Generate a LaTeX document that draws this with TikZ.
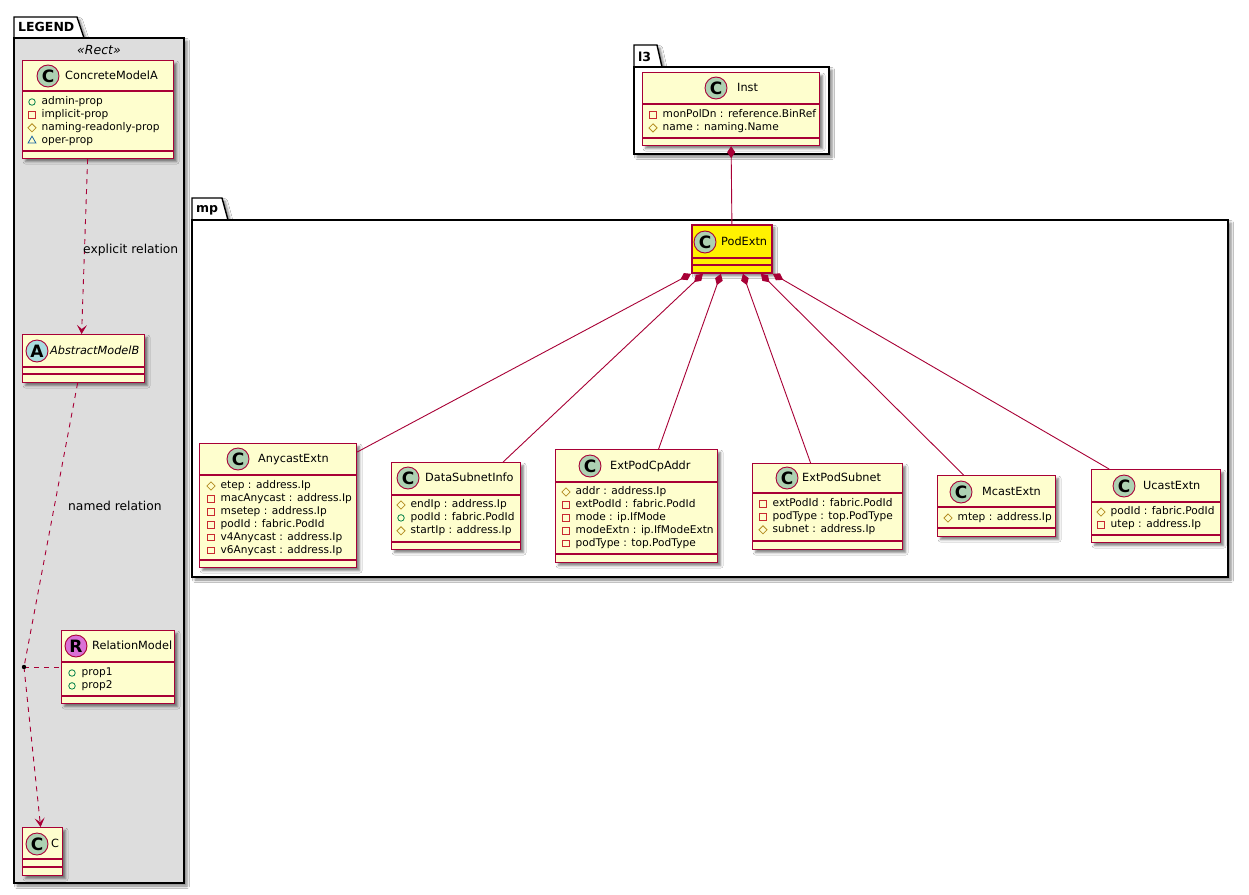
\documentclass[tikz,border=0pt]{standalone}
\usepackage{fontspec}
\setmainfont{DejaVu Sans}
\usetikzlibrary{arrows.meta,shapes.geometric,shadows.blur}

\definecolor{umlred}{HTML}{A80036}
\definecolor{umlfill}{HTML}{FEFECE}
\definecolor{spotC}{HTML}{ADD1B2}
\definecolor{spotA}{HTML}{A9DCDF}
\definecolor{spotR}{HTML}{DA70D6}
\definecolor{legendgray}{HTML}{DDDDDD}
\definecolor{pubgreen}{HTML}{038048}
\definecolor{privred}{HTML}{C82930}
\definecolor{protgold}{HTML}{B38D22}
\definecolor{pkgblue}{HTML}{1963A0}

\tikzset{
  umlshadow/.style={blur shadow={shadow xshift=3pt, shadow yshift=-3pt, shadow blur radius=2.5pt, shadow opacity=50}},
  classbox/.style={draw=umlred, fill=umlfill, line width=1.2pt, inner sep=0, umlshadow},
  classline/.style={draw=umlred, line width=1.2pt},
  spot/.style={circle, draw=umlred, line width=0.9pt, minimum size=22pt, inner sep=0, font=\bfseries\fontsize{17}{17}\selectfont},
  clsname/.style={anchor=west, inner sep=0, text height=8.5pt, text depth=2.5pt, font=\fontsize{11.3}{13}\selectfont},
  attrtext/.style={anchor=west, inner sep=0, text height=8pt, text depth=2.5pt, font=\fontsize{10.6}{12}\selectfont},
  attpub/.style={circle, draw=pubgreen, line width=0.8pt, minimum size=6.5pt, inner sep=0},
  attpriv/.style={rectangle, draw=privred, line width=0.8pt, minimum size=6.5pt, inner sep=0},
  attprot/.style={diamond, draw=protgold, line width=0.8pt, minimum size=8.5pt, inner sep=0},
  attpkg/.style={regular polygon, regular polygon sides=3, draw=pkgblue, line width=0.8pt, minimum size=9pt, inner sep=0},
  pkgbody/.style={draw=black, line width=1.4pt, umlshadow},
  pkgname/.style={anchor=west, inner sep=0, font=\bfseries\fontsize{12.5}{14}\selectfont},
  comp/.style={draw=umlred, line width=0.9pt, {Diamond[length=12pt,width=8pt]}-},
  dep/.style={draw=umlred, line width=0.9pt, dash pattern=on 5pt off 5pt},
  deparrow/.style={dep, -{Stealth[length=9pt,width=10pt,inset=4pt]}},
  rellabel/.style={anchor=west, inner sep=0, font=\fontsize{12.3}{14}\selectfont},
}

% class box: [options] name, x1, y1, x2, y2, header line, attribute line
\newcommand\umlclass[8][]{%
  \node[classbox, #1, minimum width={#5-#3}, minimum height={#6-#4}, anchor=north west] (#2) at (#3,#4) {};
  \draw[classline, #1] (#3,#7) -- (#5,#7) (#3,#8) -- (#5,#8);
}
% attributes: prefix, icon x, first row y, list of style/text
\newcommand\umlattrs[4]{%
  \foreach \sty/\txt [count=\i] in {#4} {
    \node[\sty] (#1-i\i) at (#2,{#3+12.9*(\i-1)}) {};
    \node[attrtext] (#1-t\i) at ({#2+9.5},{#3+12.9*(\i-1)}) {\txt};
  }%
}

\begin{document}
\begin{tikzpicture}[x=1pt,y=-1pt]

\fill[white] (0,0) rectangle (1249,894);
\useasboundingbox (0,0) rectangle (1249,894);

% packages
\path[pkgbody, fill=white] (14,38) -- (14,17) -- (77,17) -- (84,38) -- cycle;
\path[pkgbody, fill=legendgray] (14,38) rectangle (184,883);
\node[pkgname] (legendname) at (18,27) {LEGEND};
\node[font=\itshape\fontsize{12.5}{14}\selectfont, inner sep=0] (legendstereo) at (99,50) {«Rect»};

\path[pkgbody, fill=white] (192,220) -- (192,198) -- (222,198) -- (228,220) -- cycle;
\path[pkgbody, fill=white] (192,220) rectangle (1228,577);
\node[pkgname] (mpname) at (196,210) {mp};

\path[pkgbody, fill=white] (634,67) -- (634,45) -- (657,45) -- (662,67) -- cycle;
\path[pkgbody, fill=white] (634,67) rectangle (829,154);
\node[pkgname] (l3name) at (638,57) {l3};

% legend classes
\umlclass{concrete}{22}{60}{173}{158}{91}{151}
\node[spot, fill=spotC] (concrete-s) at (48,76) {C};
\node[clsname] (concrete-n) at (65,76) {ConcreteModelA};
\umlattrs{concrete}{32}{102}{attpub/admin-prop, attpriv/implicit-prop, attprot/naming-readonly-prop, attpkg/oper-prop}

\umlclass{abstract}{22}{334}{144}{382}{367}{374}
\node[spot, fill=spotA] (abstract-s) at (37,351) {A};
\node[clsname, font=\itshape\fontsize{11.3}{13}\selectfont] (abstract-n) at (50,351) {AbstractModelB};

\umlclass{relmodel}{61}{630}{174}{703}{662}{696}
\node[spot, fill=spotR] (relmodel-s) at (76,646) {R};
\node[clsname] (relmodel-n) at (92,646) {RelationModel};
\umlattrs{relmodel}{72}{673}{attpub/prop1, attpub/prop2}

\umlclass{cmodel}{22}{827}{62}{875}{859}{867}
\node[spot, fill=spotC] (cmodel-s) at (37,844) {C};
\node[clsname] (cmodel-n) at (51,844) {C};

% legend relations
\draw[deparrow] ([xshift=-10.5pt]concrete.south) -- ([xshift=-2pt]abstract.north);
\node[rellabel] (explicitlbl) at (83,250) {explicit relation};
\coordinate (reldot) at (24,667);
\draw[dep] ([xshift=-6pt]abstract.south) -- (reldot);
\draw[deparrow] (reldot) -- ([xshift=-2pt]cmodel.north);
\draw[dep] (reldot) -- (reldot -| relmodel.west);
\fill (reldot) circle (2.2);
\node[rellabel] (namedlbl) at (68,506) {named relation};

% l3
\umlclass{inst}{642}{72}{819}{145}{104}{138}
\node[spot, fill=spotC] (inst-s) at (716,88) {C};
\node[clsname] (inst-n) at (737,88) {Inst};
\umlattrs{inst}{653}{115}{attpriv/monPolDn : reference.BinRef, attprot/name : naming.Name}

% mp
\umlclass[fill=yellow, line width=1.8pt]{podextn}{691}{224}{771}{272}{258}{265}
\node[spot, fill=spotC] (podextn-s) at (705,242) {C};
\node[clsname] (podextn-n) at (721,242) {PodExtn};

\umlclass{anycast}{199}{443}{356}{567}{475}{560}
\node[spot, fill=spotC] (anycast-s) at (238,459) {C};
\node[clsname] (anycast-n) at (258,459) {AnycastExtn};
\umlattrs{anycast}{211}{486}{attprot/etep : address.Ip, attpriv/macAnycast : address.Ip, attpriv/msetep : address.Ip, attpriv/podId : fabric.PodId, attpriv/v4Anycast : address.Ip, attpriv/v6Anycast : address.Ip}

\umlclass{datasub}{391}{462}{520}{549}{495}{542}
\node[spot, fill=spotC] (datasub-s) at (408,478) {C};
\node[clsname] (datasub-n) at (425,478) {DataSubnetInfo};
\umlattrs{datasub}{401}{505}{attprot/endIp : address.Ip, attpub/podId : fabric.PodId, attprot/startIp : address.Ip}

\umlclass{extpodcp}{555}{449}{717}{562}{482}{554}
\node[spot, fill=spotC] (extpodcp-s) at (590,466) {C};
\node[clsname] (extpodcp-n) at (610,466) {ExtPodCpAddr};
\umlattrs{extpodcp}{566}{492}{attprot/addr : address.Ip, attpriv/extPodId : fabric.PodId, attpriv/mode : ip.IfMode, attpriv/modeExtn : ip.IfModeExtn, attpriv/podType : top.PodType}

\umlclass{extpodsub}{752}{463}{902}{549}{493}{541}
\node[spot, fill=spotC] (extpodsub-s) at (787,478) {C};
\node[clsname] (extpodsub-n) at (802,478) {ExtPodSubnet};
\umlattrs{extpodsub}{763}{504}{attpriv/extPodId : fabric.PodId, attpriv/podType : top.PodType, attprot/subnet : address.Ip}

\umlclass{mcast}{937}{475}{1055}{536}{507}{528}
\node[spot, fill=spotC] (mcast-s) at (961,492) {C};
\node[clsname] (mcast-n) at (982,492) {McastExtn};
\umlattrs{mcast}{948}{518}{attprot/mtep : address.Ip}

\umlclass{ucast}{1091}{469}{1220}{542}{502}{535}
\node[spot, fill=spotC] (ucast-s) at (1124,486) {C};
\node[clsname] (ucast-n) at (1143,486) {UcastExtn};
\umlattrs{ucast}{1101}{512}{attprot/podId : fabric.PodId, attpriv/utep : address.Ip}

% compositions
\draw[comp] (inst.south) -- (podextn.north);
\draw[comp] (podextn.south west) -- ([yshift=-9pt]anycast.north east);
\draw[comp] ([xshift=-29pt]podextn.south) -- ([xshift=47pt]datasub.north);
\draw[comp] ([xshift=-11pt]podextn.south) -- ([xshift=22pt]extpodcp.north);
\draw[comp] ([xshift=11pt]podextn.south) -- ([xshift=-17pt]extpodsub.north);
\draw[comp] ([xshift=29pt]podextn.south) -- ([xshift=-33pt]mcast.north);
\draw[comp] (podextn.south east) -- ([xshift=-47pt]ucast.north);

\end{tikzpicture}
\end{document}
